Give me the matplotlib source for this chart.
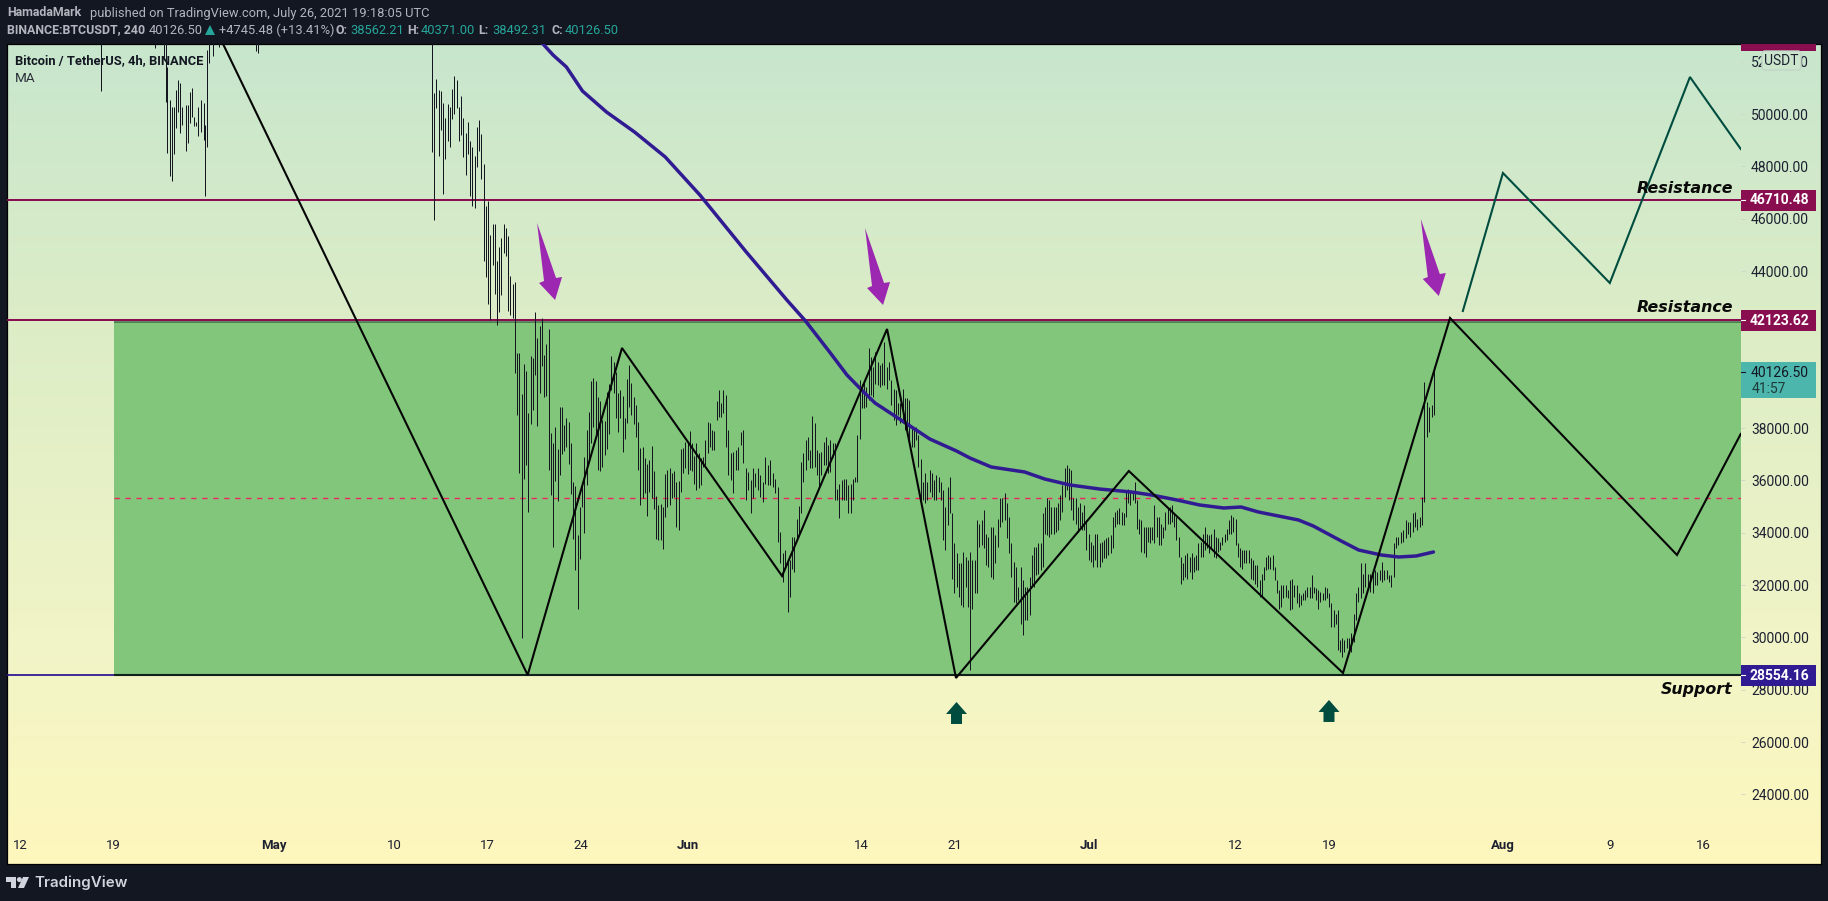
import matplotlib
matplotlib.use("Agg")
import matplotlib.pyplot as plt
import numpy as np
from matplotlib.colors import LinearSegmentedColormap
from matplotlib.patches import Rectangle, Polygon, Ellipse, FancyBboxPatch
from matplotlib.transforms import Affine2D

# ---------- data (x = days since 12 Apr 2021, prices in USDT) ----------
x_tick_days = [0, 7, 19, 28, 35, 42, 50, 63, 70, 80, 91, 98, 111, 119, 126]
x_tick_labels = ["12", "19", "May", "10", "17", "24", "Jun", "14", "21", "Jul", "12", "19", "Aug", "9", "16"]
month_labels = ["May", "Jun", "Jul", "Aug"]
y_ticks = list(range(24000, 54000, 2000))
y_ticks_hidden = [40000, 42000]

resistance_upper = 46710.48
resistance_lower = 42123.62
support = 28554.16
last_price = 40126.50
top_level = 52826.00
prev_close_line = 35330
zone_top = 42040
zone_start_day = 7.04

zigzag_days = [15.2, 38.0, 45.06, 57.04, 64.9, 70.06, 83.0, 99.03, 107.04, 124.03, 128.8]
zigzag_prices = [52675, 28564, 41059, 32347, 41785, 28450, 36359, 28640, 42205, 33150, 37773]
forecast_days = [108.0, 111.0, 119.0, 125.0, 128.8]
forecast_prices = [42473, 47746, 43543, 51414, 48663]

ma_days = [38.0, 39.15, 39.9, 40.9, 42.1, 43.3, 43.9, 46.0, 48.3, 50.9, 54.3, 57.4, 58.8, 60.6, 61.9, 63.0, 64.0, 65.6,
           68.1, 70.1, 71.1, 72.7, 75.2, 76.7, 78.6, 80.8, 83.2, 84.7, 86.6, 88.3, 90.1, 91.4, 92.7, 95.7,
           96.8, 98.9, 100.2, 101.9, 103.2, 104.5, 105.8]
ma_prices = [53100, 52675, 52254, 51796, 50879, 50344, 50076, 49312, 48357, 46900, 44765, 42893, 42090, 40906, 40027,
             39454, 38957, 38422, 37581, 37123, 36856, 36512, 36321, 36053, 35824, 35671, 35556, 35442, 35251,
             35060, 34945, 34983, 34792, 34487, 34258, 33684, 33340, 33149, 33073, 33111, 33264]

down_arrow_days = [40.05, 64.6, 106.2]
down_arrow_prices = [42893, 42702, 43046]
up_arrow_days = [70.1, 97.98]
up_arrow_prices = [27533, 27610]

# bars that dip into the view early on (the rest of them lie above the visible range)
early_days = [6.03, 10.1, 10.78, 10.93, 11.04, 11.23, 11.38, 11.53, 11.68, 11.83, 11.98, 12.13, 12.39, 12.54,
              12.69, 12.87, 13.02, 13.17, 13.36, 13.55, 13.74, 13.88, 14.03, 14.18, 14.41, 14.86, 17.7, 17.85]
early_high = [54.0, 54.0, 54.0, 54.0, 51.81, 50.53, 50.28, 50.28, 50.92, 51.30, 51.17, 50.28, 50.34, 50.34,
              50.84, 50.98, 49.90, 49.71, 50.28, 50.53, 50.41, 49.58, 52.45, 54.0, 54.0, 54.0, 54.0, 54.0]
early_low = [50.89, 52.53, 52.06, 50.47, 48.50, 47.64, 47.44, 48.47, 49.45, 50.09, 49.26, 49.58, 48.60, 48.88,
             49.64, 49.90, 49.54, 49.54, 49.16, 49.32, 49.01, 46.88, 48.73, 51.96, 52.22, 52.57, 52.42, 52.32]

# consecutive 4h bars up to the last one (high, low in thousands)
bars = """54,48.56 50.79,45.95 51.32,50.22 50.92,48.39 50.89,49.39 50.41,46.94 49.83,48.28 50.37,48.97 50.28,48.74
50.94,49.81 51.45,50.00 51.30,50.22 50.25,48.97 50.69,49.20 49.83,48.36 49.26,47.67 49.68,48.47 48.97,46.87 48.74,46.48
48.39,46.41 49.49,47.97 49.77,48.59 49.23,47.51 48.09,44.38 46.48,43.77 46.67,42.74 45.37,42.13 45.79,44.23 45.79,43.12
44.38,41.93 44.92,42.43 45.26,43.08 45.79,44.69 45.64,44.57 45.34,42.47 43.81,42.32 43.50,42.20 43.58,40.10
40.86,38.50 40.88,36.29 39.30,29.99 40.45,36.05 40.18,36.59 38.56,34.80 40.75,38.15 40.69,38.69 42.44,40.03 41.43,38.09
41.90,39.33 42.19,40.37 40.79,39.17 41.21,39.22 41.79,36.40 37.80,35.44 37.42,33.47 38.05,35.99 37.19,35.22 38.79,36.21
38.79,37.00 38.12,37.14 38.37,37.26 38.24,36.63 37.42,35.48 35.93,33.76 35.78,32.57 33.91,31.08 34.99,33.01 35.89,34.97
36.88,34.00 37.93,35.82 38.61,36.75 39.80,37.42 39.90,38.03 39.80,37.77 39.17,36.40 39.05,36.37 38.31,36.52 38.28,36.97
39.36,37.20 39.68,37.77 40.75,39.45 40.54,39.33 40.15,38.37 39.33,37.86 39.45,38.37 39.22,37.10 38.37,37.57 39.86,38.18
40.41,38.82 39.71,38.50 39.17,38.15 38.88,37.67 38.22,36.40 37.22,35.06 37.26,35.31 36.84,35.53 36.63,34.64 36.78,35.57
37.31,35.31 36.36,34.89 35.40,33.75 35.06,33.72 35.10,33.72 34.99,33.36 36.24,34.61 36.40,34.99 36.46,35.06 36.29,35.31
36.35,35.38 35.95,34.20 35.99,34.10 37.19,35.57 37.22,36.29 37.45,36.46 37.44,36.24 37.89,36.40 37.42,36.37 36.93,35.86
37.42,35.63 37.03,35.70 36.84,35.82
36.90,36.52 37.54,36.58 38.24,37.03 38.21,37.28 37.92,37.16 37.90,37.16 39.04,38.30 39.45,38.43 38.97,38.43 39.45,38.56
39.26,37.28 37.92,36.20 37.03,36.01 37.09,35.53 37.16,36.39 37.28,36.39 37.86,37.35 37.92,36.65 36.46,35.25 36.33,35.63
36.01,34.76 36.46,35.31 36.27,35.76 36.46,35.63 36.20,35.37 35.95,35.18 36.90,35.88 36.58,35.82 36.77,35.82 36.27,35.76
36.07,35.50 35.76,33.65 34.04,32.83 33.21,32.12 33.34,32.70 32.89,30.98 32.95,31.55 33.82,32.63 33.85,32.51 34.51,33.78
35.02,33.97 36.71,34.74 37.03,35.95 37.54,36.39 37.67,36.77 37.16,36.46 38.47,36.46 38.18,36.52 37.16,36.20 37.03,35.76
37.09,36.20 37.48,36.58 37.67,36.58 37.35,36.27 37.54,36.33 37.41,36.90 37.41,35.25 35.69,35.25 35.88,34.58 36.01,35.25
36.07,35.25 36.07,35.25 35.82,34.76 35.88,34.74 36.07,35.25 36.14,35.95 37.73,35.95 39.83,37.60 39.70,38.75 39.77,38.75
39.58,38.81 41.04,39.07 40.72,39.26 40.34,39.20 40.92,39.70 40.53,39.64 40.41,39.58 40.47,39.64 41.30,39.64 40.34,39.51
40.53,39.83 39.83,38.88 39.51,38.30 39.45,38.11 38.94,38.49 38.94,38.18 39.51,38.18 39.13,37.92 39.13,37.73 39.07,37.41
38.05,37.28 37.99,37.28 38.05,37.54 37.73,36.52 36.80,35.25 35.95,35.25 36.27,35.12
35.95,35.25 36.39,35.56 36.27,35.37 36.01,35.25 36.20,35.25 36.14,35.56 35.95,35.25 35.63,33.72 34.99,33.34 35.76,34.29
36.14,34.74 34.74,32.25 33.59,31.68 33.21,31.93 32.83,31.55 32.83,31.23 33.27,31.17 33.08,31.93 32.95,31.17 33.27,28.77
32.95,31.10 32.95,31.68 34.48,31.68 34.35,33.46 34.48,33.53 34.86,33.40 33.97,32.76 33.85,32.70 34.23,32.32 34.23,32.25
33.91,32.83 34.54,33.46 35.31,34.23 35.31,34.42 35.50,34.48 35.12,33.78 34.61,33.21 33.59,32.32 32.89,31.36 32.70,31.30
31.93,31.42 32.70,30.53 32.19,30.11 31.93,30.66 31.93,30.66 32.32,30.85 33.14,31.93 33.46,31.93 33.46,32.38 33.59,32.44
33.59,32.57 34.74,32.70 34.99,33.97 35.31,33.91 35.25,33.85 34.99,33.97 34.99,33.97 34.99,34.04 35.12,34.10 35.44,34.48
35.82,34.80 36.46,35.37 36.58,35.63 36.46,35.25 36.39,34.86 35.31,34.48 35.31,34.35 34.99,34.04 35.12,34.23 34.80,34.10
35.05,34.10 34.48,33.34 33.97,32.95 33.65,32.89 33.53,32.70 33.97,32.95 33.97,32.70 33.59,32.70 33.65,32.89 33.72,33.02
33.78,33.02 33.85,33.14 33.91,33.21 34.61,33.40 34.80,34.23 34.86,34.35 34.93,34.35 34.80,34.29 34.74,34.29 35.63,34.61
35.69,35.12 35.56,35.05 35.56,35.25 35.95,35.12 35.25,34.16 34.54,33.97 34.48,33.27 34.23,33.21 34.23,33.08 34.23,33.65
34.23,33.59 34.23,33.72 35.05,33.59 34.61,33.85 34.61,33.53 34.35,33.53 34.23,33.78 34.80,34.10 34.99,34.35 34.99,34.35
35.05,34.42 34.74,34.23 34.61,33.72 33.85,33.08 33.08,32.06 32.83,32.19 33.14,32.32 33.21,32.25 33.08,32.51 33.21,32.25
33.08,32.51 33.14,32.57 33.59,32.57 33.65,33.08 33.97,33.08 34.23,33.34 33.97,33.40 33.91,33.21 33.97,33.40 34.16,33.08
33.85,33.02 33.78,33.27 33.65,33.34 33.85,33.53 33.97,33.65 34.16,33.72 34.48,33.97 34.67,33.97 34.61,34.04 34.54,33.53
33.59,33.08 33.40,32.70 33.34,32.63 33.34,32.83 33.34,32.83 33.34,32.83 33.02,32.25 32.95,32.19 32.76,32.06 32.76,31.93
32.19,31.55 32.44,31.55 32.70,32.19 33.08,32.57 33.14,32.63 33.08,32.63 33.14,32.57 32.70,32.19 32.19,31.68 31.81,31.10
32.00,31.17 32.00,31.49 32.00,31.55 31.81,31.49 32.19,31.04 32.25,31.10 32.00,31.55 32.00,31.30 31.68,31.17 31.62,31.23
31.68,31.42 31.81,31.42 31.93,31.55 31.93,31.49 32.38,31.49 31.93,31.68 31.87,31.42 31.81,31.10 31.74,31.36 31.68,31.42
31.93,31.42 31.87,31.49 31.68,31.17 31.30,30.40 31.04,30.40 30.91,30.53 31.04,29.51 29.89,29.45 29.96,29.26 29.89,29.45
29.96,29.58 29.96,29.45 30.15,29.45 30.91,29.83 31.68,30.66 31.93,31.36 32.83,31.49 32.44,31.68 32.83,31.93 32.44,31.93
32.44,31.74 32.57,31.68 32.57,32.00 32.51,32.00 32.57,32.19 32.89,32.12 32.57,32.19 32.57,32.25 32.38,32.12 32.38,31.93
33.59,32.32 33.85,33.40 33.85,33.53 34.04,33.59 34.10,33.65 34.48,33.78 34.42,33.97 34.42,33.85 34.74,34.04 34.80,34.23
34.54,34.10 34.61,34.23 35.37,34.29 39.77,35.18 39.00,37.67 38.81,37.86 38.88,38.43 40.37,38.49"""
# day for selected bars (bar number -> day)
bar_anchor_index = [0, 130, 156, 239, 261, 282, 357, 408]
bar_anchor_days = [30.84, 52.65, 57.45, 71.46, 75.24, 78.68, 90.99, 99.30]
last_bar_day = 105.83

# ---------- figure geometry ----------
W, H = 1828, 901
DARK = "#131722"
FONT = "Roboto"
plt.rcParams["font.family"] = FONT
fig = plt.figure(figsize=(W / 100, H / 100), dpi=100, facecolor=DARK)


def frame(x0, y0, x1, y1):
    return [x0 / W, 1 - y1 / H, (x1 - x0) / W, (y1 - y0) / H]


YMIN, YMAX = 21342, 52675
XMIN, XMAX = -0.973, 128.82

bg = fig.add_axes(frame(7, 44, 1821, 864), zorder=0)
cmap = LinearSegmentedColormap.from_list(
    "bg", [(0, "#c8e6cd"), (0.336, "#dcedc7"), (0.77, "#f3f5c6"), (1, "#fef7bd")])
bg.imshow(np.linspace(0, 1, 256)[:, None], aspect="auto", cmap=cmap, vmin=0, vmax=1)
bg.set_xticks([]); bg.set_yticks([])
for s in bg.spines.values():
    s.set_color("#000000"); s.set_linewidth(0.9)

ax = fig.add_axes(frame(7, 44, 1741, 864), zorder=2, facecolor="none")
ax.set_xlim(XMIN, XMAX); ax.set_ylim(YMIN, YMAX)
for s in ax.spines.values():
    s.set_visible(False)
ax.set_yticks([])
ax.set_xticks(x_tick_days)
ax.set_xticklabels(x_tick_labels, fontsize=9.5, color="#1c2030")
ax.tick_params(axis="x", length=0, pad=-18)
for t in ax.get_xticklabels():
    if t.get_text() in month_labels:
        t.set_fontweight("bold")

# zone + horizontal levels
ax.add_patch(Rectangle((zone_start_day, support), XMAX - zone_start_day, zone_top - support,
                       facecolor="#81c67b", edgecolor="none", zorder=1))
ax.hlines(zone_top, zone_start_day, XMAX, color="#3f6b45", lw=1.1, zorder=2)
ax.hlines(support, XMIN, XMAX, color="#311b92", lw=1.3, zorder=2)
ax.hlines(support, zone_start_day, XMAX, color="#10201a", lw=1.5, zorder=2.1)
ax.hlines([resistance_upper, resistance_lower], XMIN, XMAX, color="#880e4f", lw=1.45, zorder=2.2)
ax.plot([zone_start_day, XMAX], [prev_close_line] * 2, color="#f0245f", lw=1.0,
        ls=(0, (3.8, 4.1)), zorder=2.3)

# price bars
pairs = [p.split(",") for p in bars.split()]
highs = np.array([float(a) for a, b in pairs]) * 1000
lows = np.array([float(b) for a, b in pairs]) * 1000
days = np.interp(np.arange(len(highs)), bar_anchor_index + [len(highs) - 1], bar_anchor_days + [last_bar_day])
ax.vlines(days, lows, highs, color="#14161f", lw=0.72, zorder=3)
ax.vlines(early_days, np.array(early_low) * 1000, np.array(early_high) * 1000, color="#14161f", lw=0.72, zorder=3)

# drawings
ax.plot(ma_days, ma_prices, color="#311b92", lw=2.5, zorder=4, solid_capstyle="round", solid_joinstyle="round")
ax.plot(zigzag_days, zigzag_prices, color="#050505", lw=1.5, zorder=5, solid_joinstyle="miter")
ax.plot(forecast_days, forecast_prices, color="#004d40", lw=1.5, zorder=5, solid_joinstyle="miter")

# arrows: the shape is fixed in pixels, anchored at the tip's data position
down_shape = np.array([(-18, 77), (1, 22), (7, 23), (0, 0), (-16, 17), (-11, 19)], float)
up_shape = np.array([(0, 0), (-10.5, -12), (-5.5, -12), (-5.5, -22), (5.5, -22), (5.5, -12), (10.5, -12)], float)
for d, p in zip(down_arrow_days, down_arrow_prices):
    ax.add_patch(Polygon(down_shape, closed=True, facecolor="#9c27b0", edgecolor="none", zorder=6,
                         transform=Affine2D().translate(*ax.transData.transform((d, p)))))
for d, p in zip(up_arrow_days, up_arrow_prices):
    ax.add_patch(Polygon(up_shape, closed=True, facecolor="#004d40", edgecolor="none", zorder=6,
                         transform=Affine2D().translate(*ax.transData.transform((d, p)))))

# annotations
lab = dict(family="DejaVu Sans", style="oblique", weight="bold", fontsize=11.4, color="#0a0a0a", ha="right",
           va="center", zorder=7)
ax.text(128.2, 47170, "Resistance", **lab)
ax.text(128.2, 42590, "Resistance", **lab)
ax.text(128.2, 28020, "Support", **lab)

# price scale
axr = fig.add_axes(frame(1741, 44, 1821, 864), zorder=2, facecolor="none")
axr.set_ylim(YMIN, YMAX); axr.set_xlim(0, 80)
for s in axr.spines.values():
    s.set_visible(False)
axr.set_xticks([])
axr.set_yticks(y_ticks)
axr.set_yticklabels(["" if v in y_ticks_hidden else f"{v:.2f}" for v in y_ticks], fontsize=10, color="#1c2030")
axr.tick_params(axis="y", direction="in", length=3, width=0.7, color="#cfd8c8", pad=-49)


def price_tag(price, txt, face, fg="white", half=401, weight="bold"):
    axr.add_patch(Rectangle((0, price - half), 75, 2 * half, facecolor=face, edgecolor="none", zorder=5))
    axr.plot([0, 4], [price, price], color="white", lw=0.8, zorder=6)
    axr.text(68, price - 15, txt, color=fg, fontsize=10, weight=weight, ha="right", va="center", zorder=6,
             clip_on=True)


price_tag(resistance_upper, "46710.48", "#880e4f")
price_tag(resistance_lower, "42123.62", "#880e4f")
price_tag(support, "28554.16", "#311b92")
price_tag(top_level, "52826.00", "#880e4f")
axr.add_patch(Rectangle((0, 39130), 75, 1380, facecolor="#4db6ac", edgecolor="none", zorder=5))
axr.plot([0, 4], [last_price, last_price], color="#131722", lw=0.8, zorder=6)
axr.text(68, last_price - 15, "40126.50", color="#131722", fontsize=10, ha="right", va="center", zorder=6)
axr.text(11, 39500, "41:57", color="#1c3a3a", fontsize=10, ha="left", va="center", zorder=6)
axr.add_patch(FancyBboxPatch((21, 51681), 39, 726, boxstyle="round,pad=0,rounding_size=3", mutation_aspect=38,
                             facecolor="#cbe6cd", edgecolor="#c3d6c8", lw=1, zorder=7))
axr.text(40.5, 52040, "USDT", color="#1c2030", fontsize=10, ha="center", va="center", zorder=8)


# ---------- header / chrome text in pixel positions ----------
def T(x, y, s, color="#b2b5be", weight="normal", fs=9.25, ha="left", family=FONT):
    return fig.text(x / W, 1 - y / H, s, color=color, fontweight=weight, fontsize=fs, ha=ha, va="center",
                    family=family, zorder=20)


T(7, 13, "HamadaMark", weight="bold", fs=8.9)
T(89.5, 13, "published on TradingView.com, July 26, 2021 19:18:05 UTC")
T(7, 30, "BINANCE:BTCUSDT, 240", weight="bold", fs=8.9)
T(149, 30, "40126.50")
T(219, 30, "+4745.48 (+13.41%)")
TEAL = "#26a69a"
for x, lbl, val in [(336, "O:", "38562.21"), (407, "H:", "40371.00"), (478, "L:", "38492.31"), (551, "C:", "40126.50")]:
    T(x, 30, lbl, weight="bold", fs=8.9)
    T(x + 14, 30, val, color=TEAL)
fig.add_artist(Polygon([(205 / W, 1 - 35 / H), (215 / W, 1 - 35 / H), (210 / W, 1 - 25 / H)], closed=True,
                       facecolor=TEAL, edgecolor="none", transform=fig.transFigure, zorder=20))

T(15, 61, "Bitcoin / TetherUS, 4h, BINANCE", color="#131722", weight="bold", fs=9.25)
T(15, 78, "MA", color="#2a2e39", fs=9.7)

# TradingView logo
LOGO = "#d1d4dc"
def P(pts):
    fig.add_artist(Polygon([(x / W, 1 - y / H) for x, y in pts], closed=True, facecolor=LOGO, edgecolor="none",
                           transform=fig.transFigure, zorder=20))
P([(6, 877), (16, 877), (16, 888), (11, 888), (11, 882), (6, 882)])
P([(23, 877), (29, 877), (24, 888), (18, 888)])
fig.add_artist(Ellipse((19.4 / W, 1 - 879.6 / H), 5 / W, 5 / H, facecolor=LOGO, edgecolor="none",
                       transform=fig.transFigure, zorder=20))
T(34, 882.5, "TradingView", color=LOGO, weight="semibold", fs=10.9, family="Inter")

fig.savefig("out.png", dpi=100, facecolor=DARK)
